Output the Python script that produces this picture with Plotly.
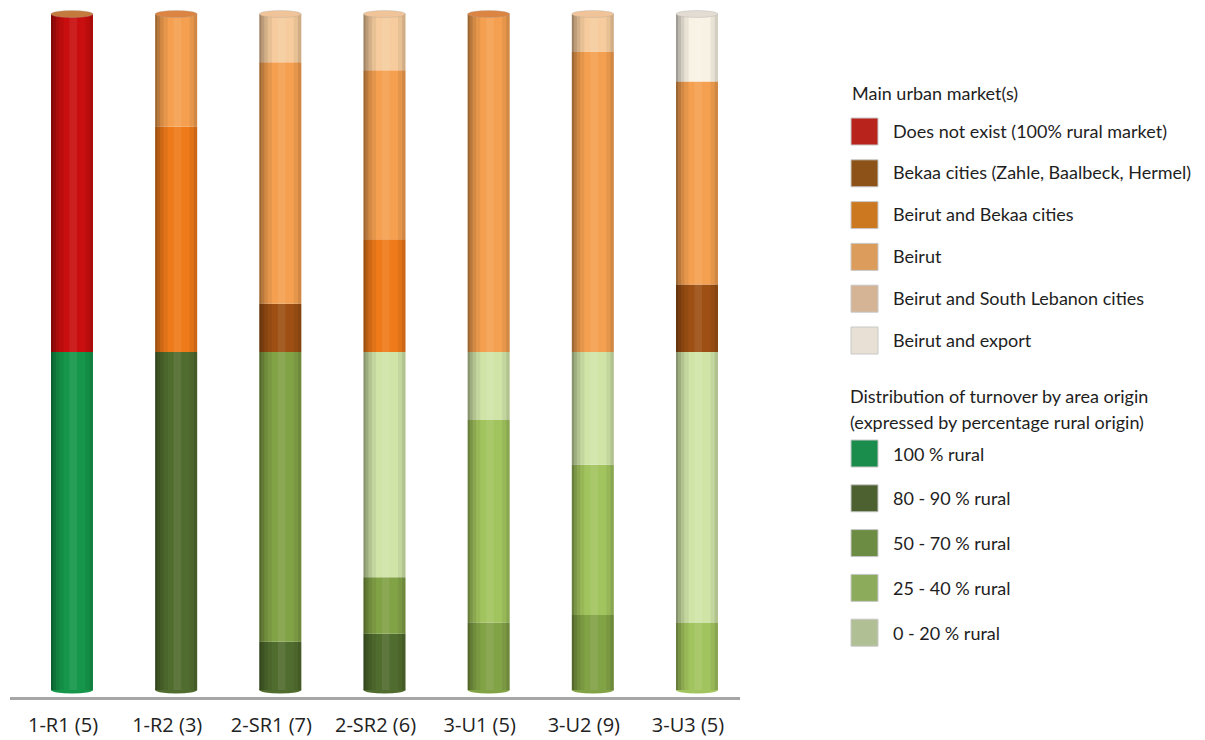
import plotly.graph_objects as go

# ---------------- data ----------------
groups = ["1-R1 (5)", "1-R2 (3)", "2-SR1 (7)", "2-SR2 (6)", "3-U1 (5)", "3-U2 (9)", "3-U3 (5)"]
n_farms = [5, 3, 7, 6, 5, 9, 5]

# Distribution of turnover by area origin (counts of farms per group)
rural_100 = [5, 0, 0, 0, 0, 0, 0]
rural_80_90 = [0, 3, 1, 1, 0, 0, 0]
rural_50_70 = [0, 0, 6, 1, 1, 2, 0]
rural_25_40 = [0, 0, 0, 0, 3, 4, 1]
rural_0_20 = [0, 0, 0, 4, 1, 3, 4]

# Main urban market(s) (counts of farms per group)
mkt_none = [5, 0, 0, 0, 0, 0, 0]
mkt_bekaa = [0, 0, 1, 0, 0, 0, 1]
mkt_beirut_bekaa = [0, 2, 0, 2, 0, 0, 0]
mkt_beirut = [0, 1, 5, 3, 5, 8, 3]
mkt_beirut_south = [0, 0, 1, 1, 0, 1, 0]
mkt_beirut_export = [0, 0, 0, 0, 0, 0, 1]

turnover_labels = ["100 % rural", "80 - 90 % rural", "50 - 70 % rural", "25 - 40 % rural", "0 - 20 % rural"]
turnover_series = [rural_100, rural_80_90, rural_50_70, rural_25_40, rural_0_20]
turnover_bar_colors = ["#15964a", "#506c2e", "#82a246", "#a2c45e", "#d0e4a8"]
turnover_legend_colors = ["#1a8c4c", "#4c6030", "#6c8c44", "#8cac5c", "#b0c094"]

market_labels = ["Does not exist (100% rural market)", "Bekaa cities (Zahle, Baalbeck, Hermel)",
                 "Beirut and Bekaa cities", "Beirut", "Beirut and South Lebanon cities", "Beirut and export"]
market_series = [mkt_none, mkt_bekaa, mkt_beirut_bekaa, mkt_beirut, mkt_beirut_south, mkt_beirut_export]
market_bar_colors = ["#c80e0e", "#9e5014", "#ef7a1a", "#f5a050", "#f6cc9e", "#f8f2e4"]
market_legend_colors = ["#b8241c", "#8c5218", "#cc7820", "#dc9c5c", "#d4b494", "#e8e0d4"]

# cylinder cap colours (style only)
top_cap_colors = ["#c47a3c", "#dc8442", "#f0c498", "#f0c498", "#dc8442", "#f0c498", "#e2dcd2"]

# ---------------- geometry ----------------
W, H = 1205, 740
ML, MR, MT, MB = 10, W - 740, 5, H - 697
BAR_W = 0.403
PX_PER_CAT = 104.17
PX_PER_PCT = 6.76
x_range = [-(72 - ML) / PX_PER_CAT, 6 + (740 - 697) / PX_PER_CAT]
y_range = [-(697 - 690) / PX_PER_PCT, 100 + (14 - MT) / PX_PER_PCT]

fig = go.Figure()

# each half of the cylinder = 50 % of the bar height
base = [0.0] * len(groups)
bottom_colors = [None] * len(groups)
for lab, ser, col in zip(turnover_labels, turnover_series, turnover_bar_colors):
    vals = [c / n * 50 for c, n in zip(ser, n_farms)]
    for i, v in enumerate(vals):
        if v > 0 and bottom_colors[i] is None:
            bottom_colors[i] = col
    fig.add_trace(go.Bar(x=groups, y=vals, base=base[:], width=BAR_W, name=lab,
                         marker=dict(color=col, line=dict(width=0)), showlegend=False,
                         hoverinfo="skip"))
    base = [b + v for b, v in zip(base, vals)]
for lab, ser, col in zip(market_labels, market_series, market_bar_colors):
    vals = [c / n * 50 for c, n in zip(ser, n_farms)]
    fig.add_trace(go.Bar(x=groups, y=vals, base=base[:], width=BAR_W, name=lab,
                         marker=dict(color=col, line=dict(width=0)), showlegend=False,
                         hoverinfo="skip"))
    base = [b + v for b, v in zip(base, vals)]

totals = base[:]

# cylinder shading strips (fraction of bar width, colour)
strips = [
    (0.00, 0.05, "rgba(0,0,0,0.36)"),
    (0.05, 0.12, "rgba(0,0,0,0.24)"),
    (0.12, 0.20, "rgba(0,0,0,0.14)"),
    (0.20, 0.30, "rgba(0,0,0,0.06)"),
    (0.44, 0.62, "rgba(255,255,255,0.08)"),
    (0.82, 0.92, "rgba(0,0,0,0.06)"),
    (0.92, 1.00, "rgba(0,0,0,0.15)"),
]
for f0, f1, col in strips:
    fig.add_trace(go.Bar(x=groups, y=totals, base=[0] * len(groups),
                         width=(f1 - f0) * BAR_W, offset=-BAR_W / 2 + f0 * BAR_W,
                         marker=dict(color=col, line=dict(width=0)),
                         showlegend=False, hoverinfo="skip"))

shapes = []
annotations = []

# rounded bottom and elliptical top of each cylinder
CAP_H = 7 / PX_PER_PCT
for i, tot in enumerate(totals):
    shapes.append(dict(type="circle", xref="x", yref="y", layer="below",
                       x0=i - BAR_W / 2, x1=i + BAR_W / 2, y0=-CAP_H / 2, y1=CAP_H / 2,
                       fillcolor=bottom_colors[i], line=dict(width=0)))
    shapes.append(dict(type="circle", xref="x", yref="y", layer="above",
                       x0=i - BAR_W / 2, x1=i + BAR_W / 2, y0=tot - CAP_H / 2, y1=tot + CAP_H / 2,
                       fillcolor=top_cap_colors[i], line=dict(color="rgba(160,160,160,0.6)", width=0.5)))

# ---------------- manual legend ----------------
def px2x(px):
    return (px - ML) / (W - ML - MR)

def py2y(py):
    return (H - MB - py) / (H - MT - MB)

FONT = "Lato"
TXT = "#1e1e1e"
LFS = 18

def add_text(px, py, text):
    annotations.append(dict(x=px2x(px), y=py2y(py), xref="paper", yref="paper", xanchor="left",
                            yanchor="middle", showarrow=False, text=text,
                            font=dict(family=FONT, size=LFS, color=TXT)))

add_text(850, 93, "Main urban market(s)")
for i, (lab, col) in enumerate(zip(market_labels, market_legend_colors)):
    cy = 131.5 + i * 41.8
    shapes.append(dict(type="rect", xref="paper", yref="paper", x0=px2x(851), x1=px2x(878),
                       y0=py2y(cy - 13.5), y1=py2y(cy + 13.5), fillcolor=col,
                       line=dict(color="#c8c8c8", width=1)))
    add_text(891, cy - 1, lab)

add_text(848, 396, "Distribution of turnover by area origin")
add_text(848, 422, "(expressed by percentage rural origin)")
for i, (lab, col) in enumerate(zip(turnover_labels, turnover_legend_colors)):
    cy = 453.5 + i * 44.8
    shapes.append(dict(type="rect", xref="paper", yref="paper", x0=px2x(851), x1=px2x(878),
                       y0=py2y(cy - 13.5), y1=py2y(cy + 13.5), fillcolor=col,
                       line=dict(color="#c8c8c8", width=1)))
    add_text(891, cy, lab)

fig.update_layout(
    width=W, height=H,
    margin=dict(l=ML, r=MR, t=MT, b=MB, pad=0, autoexpand=False),
    paper_bgcolor="white", plot_bgcolor="white",
    barmode="overlay",
    shapes=shapes, annotations=annotations,
    showlegend=False,
    xaxis=dict(range=x_range, showgrid=False, zeroline=False, showline=True,
               linecolor="#a6a6a6", linewidth=3, ticks="", fixedrange=True,
               automargin=False, ticklabelstandoff=8, ticklabelshift=-9,
               tickfont=dict(family="Open Sans", size=20, color="#222222")),
    yaxis=dict(range=y_range, visible=False, fixedrange=True, automargin=False),
)

fig.write_html("out.html", config={"displayModeBar": False},
               post_script="document.body.style.margin='0';document.body.style.overflow='hidden';")
